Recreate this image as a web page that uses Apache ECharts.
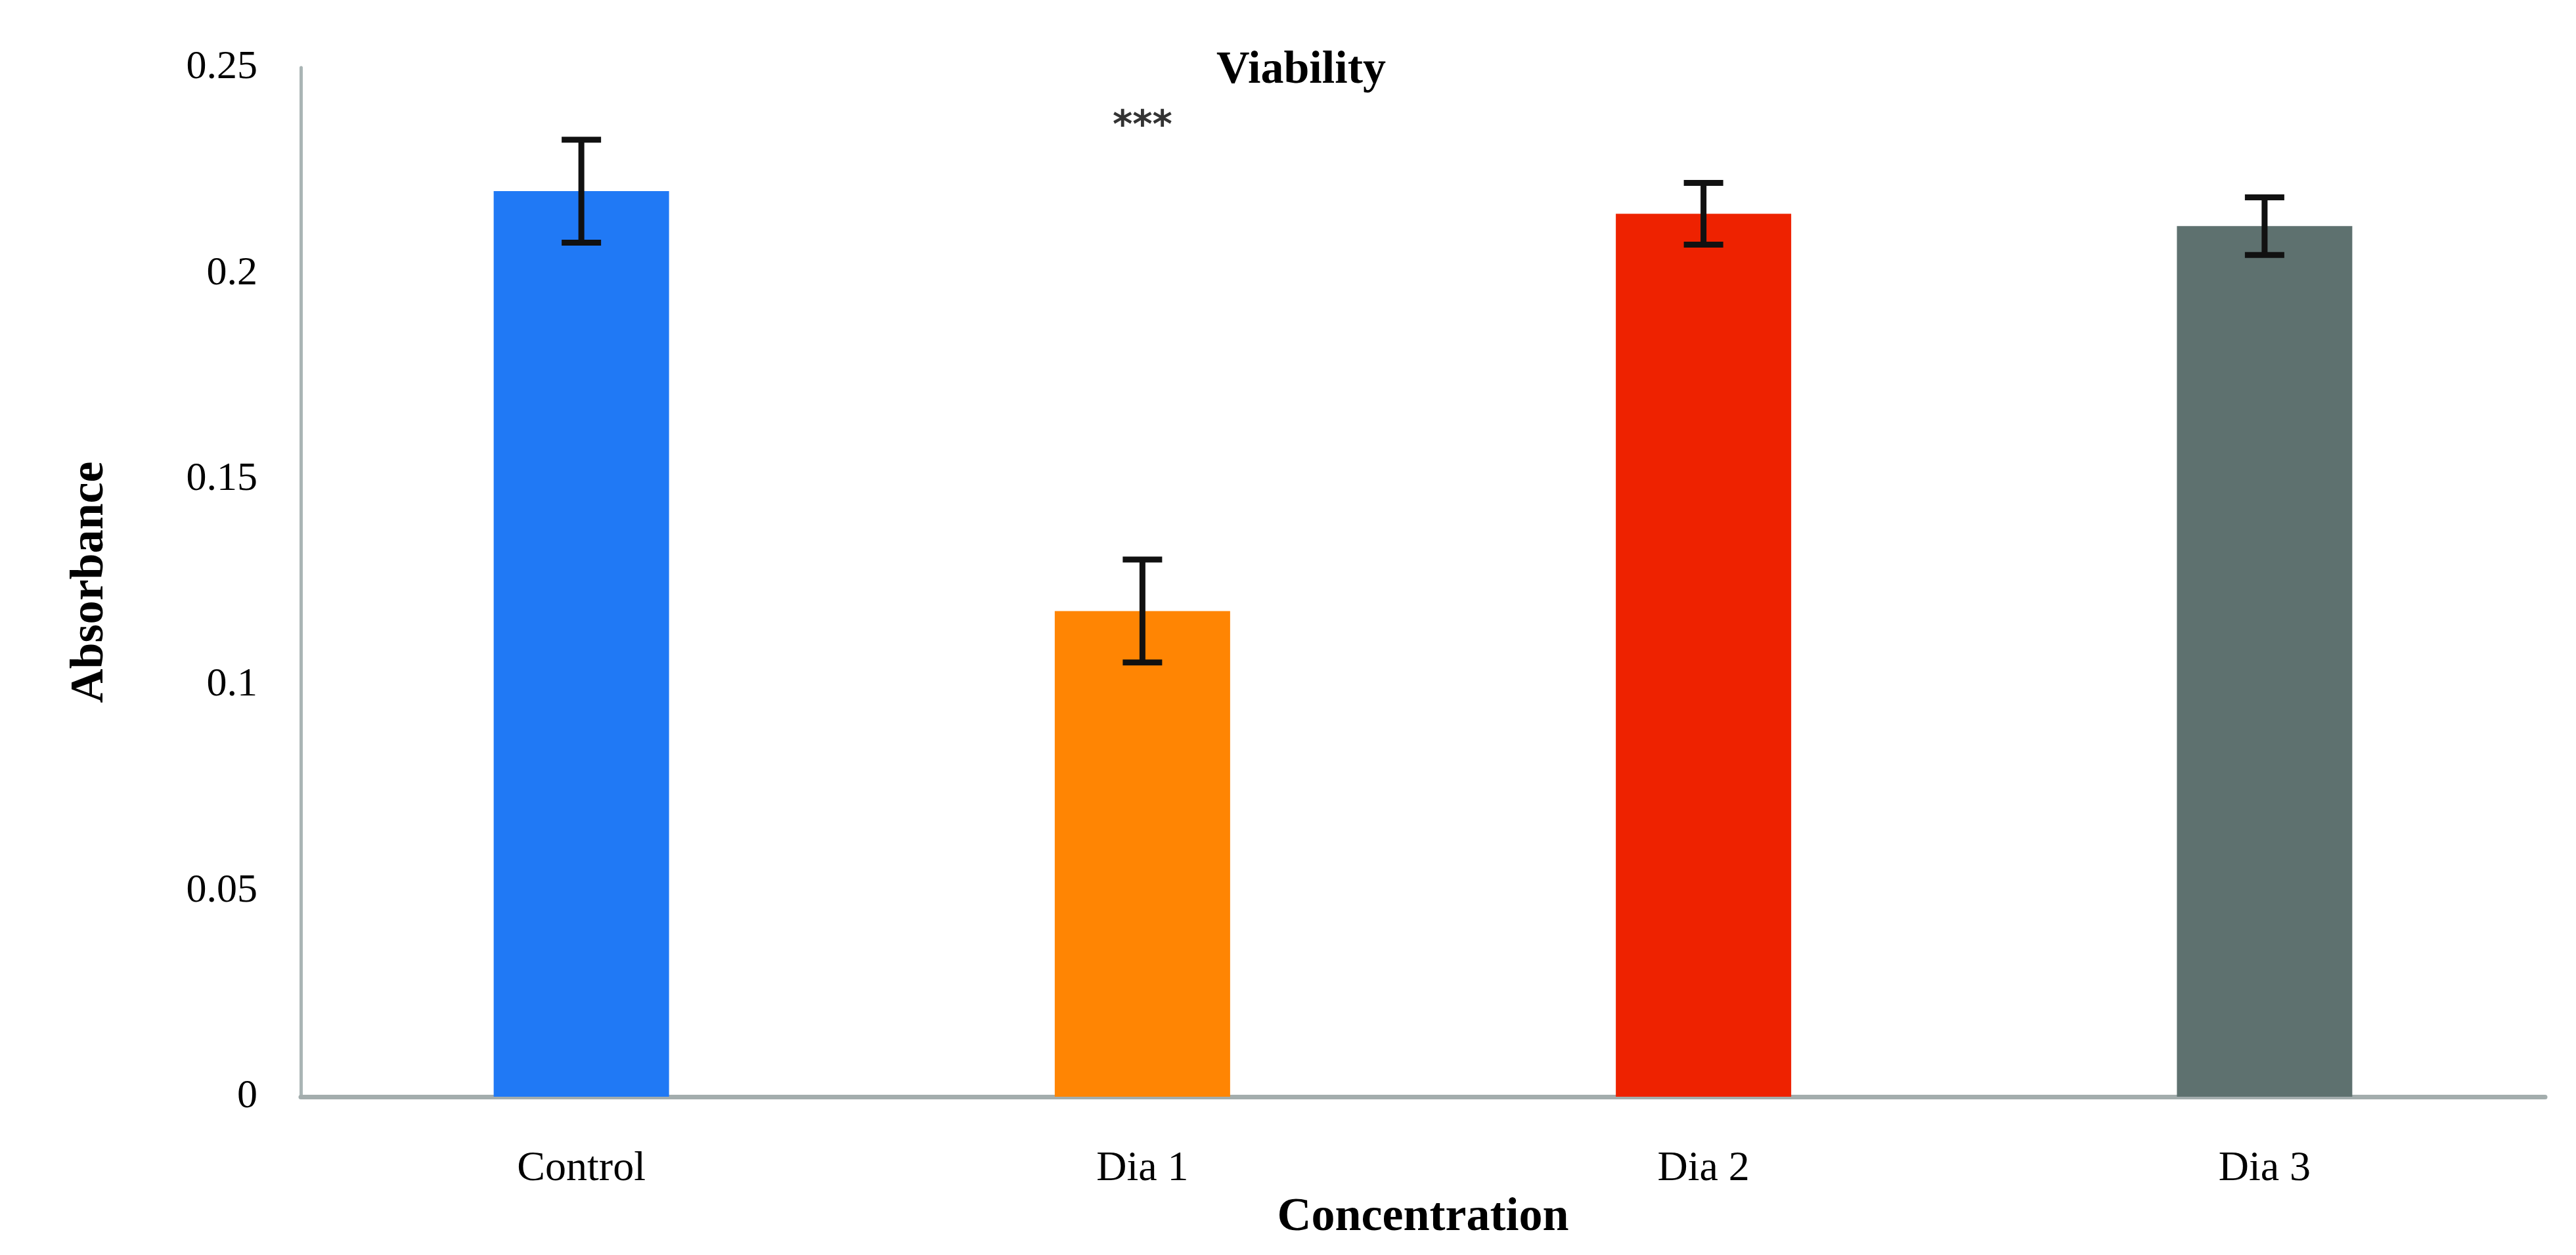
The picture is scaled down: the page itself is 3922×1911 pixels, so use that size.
<!DOCTYPE html>
<html>
<head>
<meta charset="utf-8">
<script src="https://cdn.jsdelivr.net/npm/echarts@6/dist/echarts.min.js"></script>
<style>html,body{margin:0;padding:0;background:#fff;}#c{width:3922px;height:1911px;}</style>
</head>
<body>
<div id="c"></div>
<script>
const categories = ['Control', 'Dia 1', 'Dia 2', 'Dia 3'];
const means = [0.220, 0.118, 0.2145, 0.2115];
const errors = [0.0125, 0.0125, 0.0075, 0.007];
const barColors = ['#2079F5', '#FF8503', '#EE2200', '#5E716F'];
const yTicks = [0, 0.05, 0.1, 0.15, 0.2, 0.25];
const significance = [{ category: 'Dia 1', y: 0.2355, text: '***' }];

const FONT = '"Liberation Serif", "DejaVu Serif", serif';
const chart = echarts.init(document.getElementById('c'));
chart.setOption({
  backgroundColor: '#ffffff',
  animation: false,
  title: {
    text: 'Viability',
    left: 1976, textAlign: 'center', top: 68,
    textStyle: { fontFamily: FONT, fontSize: 70, fontWeight: 'bold', color: '#000' }
  },
  grid: { left: 458, right: 47, top: 103, bottom: 241 },
  xAxis: {
    type: 'category',
    data: categories,
    name: 'Concentration',
    nameLocation: 'middle',
    nameGap: 148,
    nameTextStyle: { fontFamily: FONT, fontSize: 72, fontWeight: 'bold', color: '#000' },
    axisLine: { lineStyle: { color: '#a3adad', width: 7 } },
    axisTick: { show: false },
    axisLabel: { fontFamily: FONT, fontSize: 64, color: '#000', margin: 78 }
  },
  yAxis: {
    type: 'value',
    min: yTicks[0], max: yTicks[yTicks.length - 1], interval: 0.05,
    name: 'Absorbance',
    nameLocation: 'middle',
    nameGap: 285,
    nameTextStyle: { fontFamily: FONT, fontSize: 72, fontWeight: 'bold', color: '#000' },
    axisLine: { show: true, lineStyle: { color: '#aab5b5', width: 5 } },
    axisTick: { show: false },
    splitLine: { show: false },
    axisLabel: { fontFamily: FONT, fontSize: 62, color: '#000', margin: 66, padding: [10, 0, 0, 0] }
  },
  series: [
    {
      type: 'bar',
      barWidth: 267,
      data: means.map((v, i) => ({ value: v, itemStyle: { color: barColors[i] } }))
    },
    {
      type: 'custom',
      z: 5,
      data: means.map((m, i) => [i, m - errors[i], m + errors[i]]),
      renderItem: function (params, api) {
        const lo = api.coord([api.value(0), api.value(1)]);
        const hi = api.coord([api.value(0), api.value(2)]);
        const hw = 30;
        const style = { stroke: '#111', lineWidth: 9 };
        return {
          type: 'group',
          children: [
            { type: 'line', shape: { x1: hi[0], y1: hi[1], x2: lo[0], y2: lo[1] }, style: style },
            { type: 'line', shape: { x1: hi[0] - hw, y1: hi[1], x2: hi[0] + hw, y2: hi[1] }, style: style },
            { type: 'line', shape: { x1: lo[0] - hw, y1: lo[1], x2: lo[0] + hw, y2: lo[1] }, style: style }
          ]
        };
      }
    },
    {
      type: 'scatter',
      symbolSize: 0,
      data: significance.map(s => ({ value: [s.category, s.y], name: s.text })),
      label: {
        show: true, position: 'inside',
        formatter: p => p.name,
        fontFamily: '"DejaVu Sans", sans-serif', fontSize: 58, fontWeight: 'bold', color: '#000'
      }
    }
  ]
});
</script>
</body>
</html>
